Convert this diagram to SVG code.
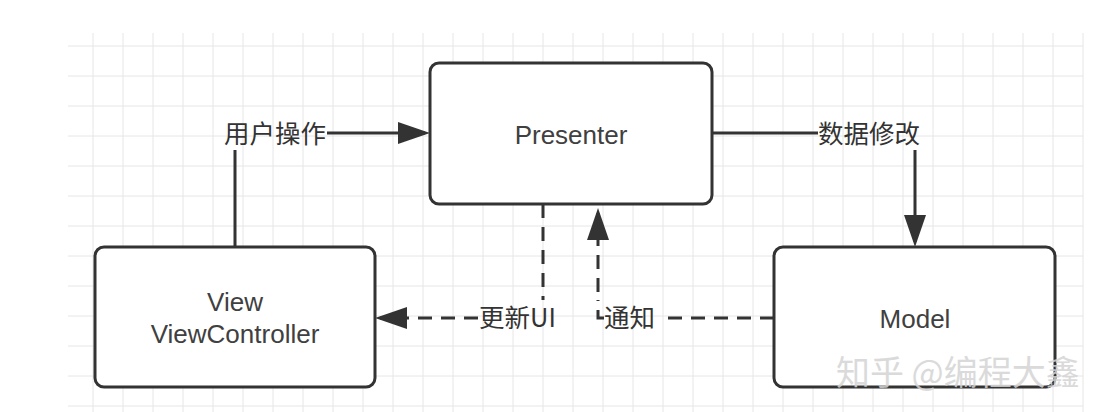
<svg xmlns="http://www.w3.org/2000/svg" width="1110" height="412" viewBox="0 0 1110 412">
<defs>
<style>
.grid line{stroke:#e6e6e6;stroke-width:1}
.box{fill:#fff;stroke:#333;stroke-width:3}
.lbl{font-family:"Liberation Sans","Noto Sans CJK SC",sans-serif;font-size:26px;fill:#404040;text-anchor:middle}
.cn{font-family:"Noto Sans CJK SC","Liberation Sans",sans-serif;font-size:25.5px;fill:#333}
.edge{fill:none;stroke:#333;stroke-width:3}
.dash{stroke-dasharray:14 9}
.wm{font-family:"Noto Sans CJK SC",sans-serif;font-size:34px;fill:#d4d4d4;opacity:0.85}
</style>
<marker id="arr" markerUnits="userSpaceOnUse" markerWidth="34" markerHeight="24" refX="27" refY="11" orient="auto" viewBox="0 0 34 24">
<path d="M0,0 L32,11 L0,22 z" fill="#333"/>
</marker>
</defs>
<rect width="1110" height="412" fill="#fff"/>
<g class="grid">
<line x1="93" y1="33" x2="93" y2="412"/><line x1="123" y1="33" x2="123" y2="412"/><line x1="153" y1="33" x2="153" y2="412"/><line x1="183" y1="33" x2="183" y2="412"/><line x1="213" y1="33" x2="213" y2="412"/><line x1="243" y1="33" x2="243" y2="412"/><line x1="273" y1="33" x2="273" y2="412"/><line x1="303" y1="33" x2="303" y2="412"/><line x1="333" y1="33" x2="333" y2="412"/><line x1="363" y1="33" x2="363" y2="412"/><line x1="393" y1="33" x2="393" y2="412"/><line x1="423" y1="33" x2="423" y2="412"/><line x1="453" y1="33" x2="453" y2="412"/><line x1="483" y1="33" x2="483" y2="412"/><line x1="513" y1="33" x2="513" y2="412"/><line x1="543" y1="33" x2="543" y2="412"/><line x1="573" y1="33" x2="573" y2="412"/><line x1="603" y1="33" x2="603" y2="412"/><line x1="633" y1="33" x2="633" y2="412"/><line x1="663" y1="33" x2="663" y2="412"/><line x1="693" y1="33" x2="693" y2="412"/><line x1="723" y1="33" x2="723" y2="412"/><line x1="753" y1="33" x2="753" y2="412"/><line x1="783" y1="33" x2="783" y2="412"/><line x1="813" y1="33" x2="813" y2="412"/><line x1="843" y1="33" x2="843" y2="412"/><line x1="873" y1="33" x2="873" y2="412"/><line x1="903" y1="33" x2="903" y2="412"/><line x1="933" y1="33" x2="933" y2="412"/><line x1="963" y1="33" x2="963" y2="412"/><line x1="993" y1="33" x2="993" y2="412"/><line x1="1023" y1="33" x2="1023" y2="412"/><line x1="1053" y1="33" x2="1053" y2="412"/><line x1="1083" y1="33" x2="1083" y2="412"/>
<line x1="68" y1="46" x2="1083" y2="46"/><line x1="68" y1="76" x2="1083" y2="76"/><line x1="68" y1="106" x2="1083" y2="106"/><line x1="68" y1="136" x2="1083" y2="136"/><line x1="68" y1="166" x2="1083" y2="166"/><line x1="68" y1="196" x2="1083" y2="196"/><line x1="68" y1="226" x2="1083" y2="226"/><line x1="68" y1="256" x2="1083" y2="256"/><line x1="68" y1="286" x2="1083" y2="286"/><line x1="68" y1="316" x2="1083" y2="316"/><line x1="68" y1="346" x2="1083" y2="346"/><line x1="68" y1="376" x2="1083" y2="376"/><line x1="68" y1="406" x2="1083" y2="406"/>
</g>
<g id="connectors">
<path class="edge" d="M235,247 L235,150 M327,133 L425,133" marker-end="url(#arr)"/>
<text class="cn" x="224" y="143">用户操作</text>
<path class="edge" d="M712,133 L818,133 M915,150 L915,242" marker-end="url(#arr)"/>
<text class="cn" x="818" y="143">数据修改</text>
<path class="edge dash" d="M543,204 L543,300 M478,318 L380,318" marker-end="url(#arr)"/>
<text class="cn" x="479" y="327">更新UI</text>
<path class="edge dash" d="M774,318 L662,318 M604,318 L598,318 L598,300 M598,292 L598,213" marker-end="url(#arr)"/>
<text class="cn" x="604" y="327">通知</text>
</g>
<g id="presenter">
<rect class="box" x="430" y="63" width="282" height="141" rx="9"/>
<text class="lbl" x="571" y="144">Presenter</text>
</g>
<g id="view">
<rect class="box" x="95" y="247" width="280" height="140" rx="9"/>
<text class="lbl" x="235" y="311">View</text>
<text class="lbl" x="235" y="343">ViewController</text>
</g>
<g id="model">
<rect class="box" x="774" y="247" width="281" height="140" rx="9"/>
<text class="lbl" x="915" y="328">Model</text>
</g>
<text class="wm" x="836" y="385">知乎 @编程大鑫</text>
</svg>
